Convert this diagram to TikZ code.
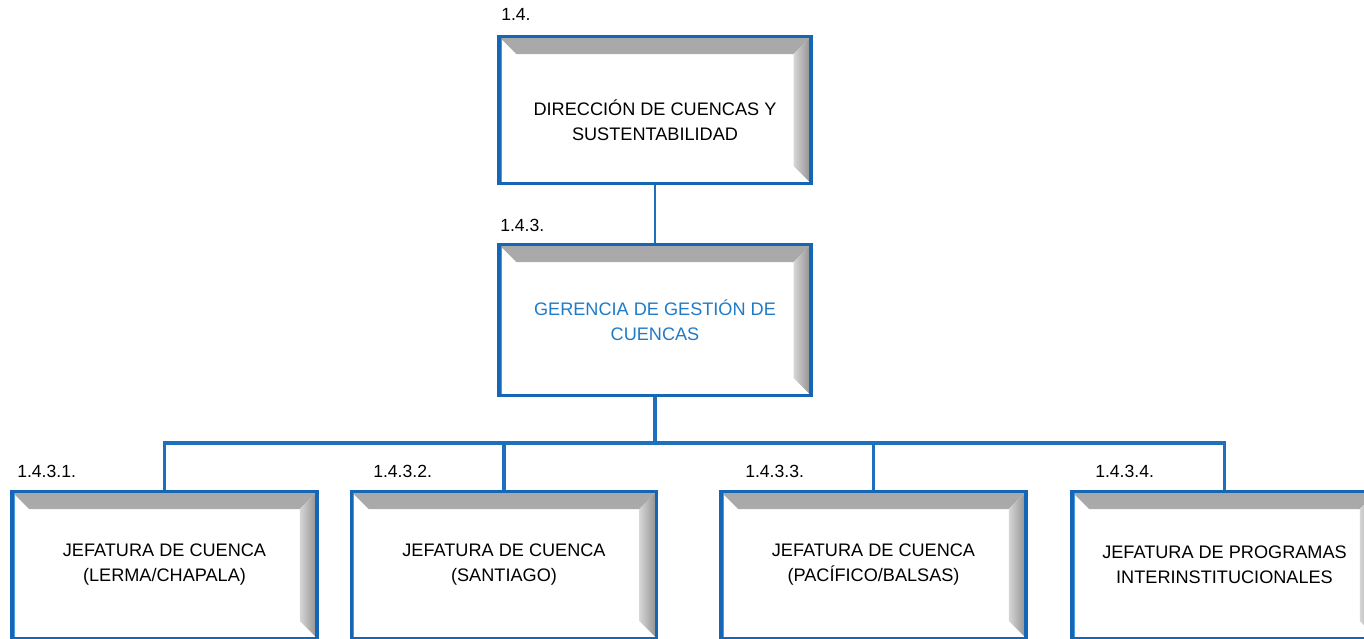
\documentclass[tikz,border=0pt]{standalone}
\usepackage{fontspec}
\setmainfont{Liberation Sans}
\usetikzlibrary{positioning}
\usetikzlibrary{calc}

\definecolor{azulborde}{HTML}{1666B8}
\definecolor{azulclaro}{HTML}{4A9BE0}
\definecolor{azultexto}{HTML}{1F7BC8}
\definecolor{azullinea}{HTML}{1E6FBE}
\definecolor{grisbisel}{HTML}{A8A8A8}
\definecolor{grisclaro}{HTML}{D6D6D6}
\definecolor{grisoscuro}{HTML}{8F8F8F}

\tikzset{
  caja/.style={draw=azulborde, line width=2.6pt, fill=white, rectangle,
    minimum width=229pt, minimum height=110pt, align=center,
    font=\fontsize{13.6}{18.75}\selectfont,
    path picture={
      \shade[top color=grisbisel, bottom color=grisbisel!80] (path picture bounding box.north west) -- (path picture bounding box.north east)
        -- ([shift={(-13pt,-13pt)}]path picture bounding box.north east) -- ([shift={(13pt,-13pt)}]path picture bounding box.north west) -- cycle;
      \shade[left color=grisclaro, right color=grisoscuro] (path picture bounding box.north east) -- (path picture bounding box.south east)
        -- ([shift={(-13pt,13pt)}]path picture bounding box.south east) -- ([shift={(-13pt,-13pt)}]path picture bounding box.north east) -- cycle;
      \draw[azulclaro, line width=1pt] ([xshift=1.8pt]path picture bounding box.south west) -- ([xshift=1.8pt]path picture bounding box.north west);
    }},
  clave/.style={anchor=base west, inner sep=0pt, font=\fontsize{13.2}{16}\selectfont},
  conector/.style={draw=azullinea, line width=2.4pt}
}

\begin{document}
\begin{tikzpicture}[x=0.75pt,y=-0.75pt]
\useasboundingbox (0,0) rectangle (1364,639);
\clip (0,0) rectangle (1364,639);

% cajas
\node[caja, minimum width=234pt] (dir) at (655,110)
  {\begin{tabular}{@{}c@{}}\rule{0pt}{32.6pt}DIRECCIÓN DE CUENCAS Y\\SUSTENTABILIDAD\end{tabular}};
\node[caja, minimum width=234pt, minimum height=113pt, text=azultexto] (ger) at (655,320)
  {GERENCIA DE GESTIÓN DE\\CUENCAS};

\node[caja] (lerma) at (164.5,565) {JEFATURA DE CUENCA\\(LERMA/CHAPALA)};
\node[caja] (santiago) at (504,565) {JEFATURA DE CUENCA\\(SANTIAGO)};
\node[caja] (pacifico) at (873.5,565) {JEFATURA DE CUENCA\\(PACÍFICO/BALSAS)};
\node[caja] (programas) at (1224.5,565) {JEFATURA DE PROGRAMAS\\INTERINSTITUCIONALES};

% claves
\node[clave] (k14) at (501,21) {1.4.};
\node[clave] (k143) at (500,231) {1.4.3.};
\node[clave] (k1431) at (17,477) {1.4.3.1.};
\node[clave] (k1432) at (373,477) {1.4.3.2.};
\node[clave] (k1433) at (745,477) {1.4.3.3.};
\node[clave] (k1434) at (1095,477) {1.4.3.4.};

% conectores
\coordinate (bus) at (655,443);
\draw[conector, line width=1.6pt] (dir.south) -- (ger.north);
\draw[conector] (ger.south) -- (bus);
\draw[conector] (lerma.north) |- (bus) -| (programas.north);
\draw[conector] (santiago.north) -- (santiago.north |- bus);
\draw[conector] (pacifico.north) -- (pacifico.north |- bus);
\end{tikzpicture}
\end{document}
